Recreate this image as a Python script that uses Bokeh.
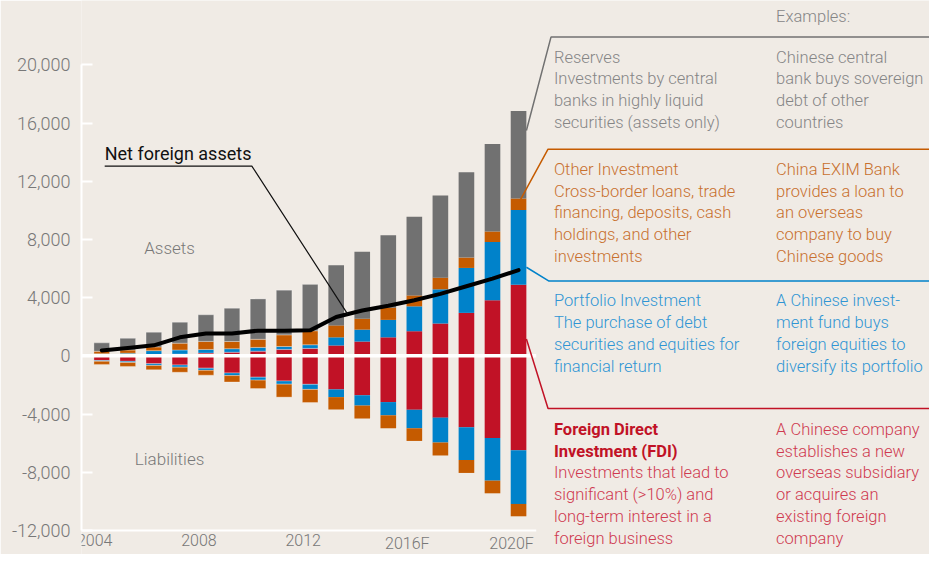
import numpy as np
from bokeh.plotting import figure
from bokeh.models import FixedTicker, NumeralTickFormatter, ColumnDataSource
from bokeh.core.properties import value
from bokeh.embed import file_html
from bokeh.resources import INLINE

# ---------------- data (USD bn) ----------------
years = list(range(2004, 2021))
tick_years = [2004, 2008, 2012, 2016, 2020]
tick_labels = ["2004", "2008", "2012", "2016F", "2020F"]
y_ticks = [-12000, -8000, -4000, 0, 4000, 8000, 12000, 16000, 20000]

assets_fdi = [50, 64, 91, 116, 186, 246, 317, 440, 510, 710, 980, 1270, 1690, 2220, 2950, 3820, 4890]
assets_portfolio = [90, 117, 265, 285, 253, 243, 260, 200, 250, 560, 820, 1200, 1710, 2350, 3090, 4000, 5130]
assets_other = [170, 216, 254, 468, 552, 495, 560, 800, 960, 820, 750, 840, 750, 800, 710, 730, 800]
assets_reserves = [580, 803, 1010, 1441, 1829, 2286, 2773, 3070, 3190, 4130, 4600, 4980, 5400, 5650, 5870, 6000, 6000]

liab_fdi = [320, 380, 540, 630, 850, 1180, 1470, 1730, 1960, 2310, 2710, 3180, 3710, 4250, 4910, 5650, 6490]
liab_portfolio = [60, 80, 120, 150, 150, 180, 200, 220, 350, 530, 710, 910, 1270, 1710, 2250, 2930, 3690]
liab_other = [210, 270, 300, 350, 330, 440, 580, 890, 900, 850, 890, 890, 870, 890, 890, 870, 850]

net_assets = [370, 530, 720, 1270, 1530, 1530, 1730, 1730, 1750, 2670, 3110, 3440, 3820, 4260, 4780, 5310, 5890]

# ---------------- text content ----------------
reserves_lines = ["Reserves", "Investments by central", "banks in highly liquid", "securities (assets only)"]
reserves_examples = ["Chinese central", "bank buys sovereign", "debt of other", "countries"]
other_lines = ["Other Investment", "Cross-border loans, trade", "financing, deposits, cash",
               "holdings, and other", "investments"]
other_examples = ["China EXIM Bank", "provides a loan to", "an overseas", "company to buy", "Chinese goods"]
portfolio_lines = ["Portfolio Investment", "The purchase of debt", "securities and equities for",
                   "financial return"]
portfolio_examples = ["A Chinese invest-", "ment fund buys", "foreign equities to", "diversify its portfolio"]
fdi_title = ["Foreign Direct", "Investment (FDI)"]
fdi_lines = ["Investments that lead to", "significant (>10%) and", "long-term interest in a",
             "foreign business"]
fdi_examples = ["A Chinese company", "establishes a new", "overseas subsidiary", "or acquires an",
                "existing foreign", "company"]

# ---------------- style ----------------
BG = "#f0ebe5"
C_GRAY = "#717171"
C_ORANGE = "#c55b00"
C_BLUE = "#0082ca"
C_RED = "#c11226"
T_GRAY = "#858585"
T_ORANGE = "#c8702e"
T_BLUE = "#2f95d4"
T_RED = "#cf3a50"
T_AXIS = "#787878"
LIGHT = "Roboto Light"
FONT = value(LIGHT)

# mapping helpers from reference-layout pixels to data coordinates
def dx(px):
    return 2004 + (px - 103) / 26.5

def dy(py):
    return (372.3 - py) / 15 * 1000

W, H = 929, 554
KX, KY, OY = 0.983, 0.97, 6
LEFT = 81
p = figure(width=W, height=H, output_backend="svg", toolbar_location=None,
           x_range=(dx(LEFT / KX), dx(W / KX)), y_range=(dy(OY + H / KY), dy(OY)),
           x_axis_location=None, min_border_left=LEFT, min_border_right=0,
           min_border_top=0, min_border_bottom=0)
p.background_fill_color = BG
p.border_fill_color = BG
p.outline_line_color = None
p.grid.visible = False

yax = p.yaxis[0]
yax.ticker = FixedTicker(ticks=y_ticks)
yax.formatter = NumeralTickFormatter(format="0,0")
yax.bounds = (-12000, 20000)
yax.axis_line_color = "white"
yax.axis_line_width = 2
yax.major_tick_line_color = "white"
yax.major_tick_line_width = 2
yax.major_tick_in = 11
yax.major_tick_out = 0
yax.minor_tick_line_color = None
yax.major_label_standoff = 11
yax.major_label_text_font = LIGHT
yax.major_label_text_font_size = "18px"
yax.major_label_text_color = T_AXIS

# ---------------- bars ----------------
yrs = np.array(years, dtype=float)
edge_alpha = [0.3 if y <= 2012 else 0.0 for y in years]
a1 = np.array(assets_fdi, float)
a2 = a1 + np.array(assets_portfolio, float)
a3 = a2 + np.array(assets_other, float)
a4 = a3 + np.array(assets_reserves, float)
l1 = -np.array(liab_fdi, float)
l2 = l1 - np.array(liab_portfolio, float)
l3 = l2 - np.array(liab_other, float)
zero = np.zeros(len(years))

segments = [
    (zero, a1, C_RED), (a1, a2, C_BLUE), (a2, a3, C_ORANGE), (a3, a4, C_GRAY),
    (zero, l1, C_RED), (l1, l2, C_BLUE), (l2, l3, C_ORANGE),
]
for bottom, top, col in segments:
    src = ColumnDataSource(dict(x=yrs, bottom=bottom, top=top, la=edge_alpha))
    p.vbar(x="x", bottom="bottom", top="top", width=0.6, source=src,
           fill_color=col, line_color="white", line_alpha="la", line_width=1)

# axis lines of the chart area
p.segment(x0=[dx(82)], y0=[0], x1=[dx(545)], y1=[0], line_color="white", line_width=3.5)
p.segment(x0=[dx(82)], y0=[-12000], x1=[dx(545)], y1=[-12000], line_color="white", line_width=2)

# net foreign assets line
p.line(x=years, y=net_assets, line_color="black", line_width=4, line_join="round", line_cap="round")

# x tick labels
p.text(x=tick_years, y=[dy(555.5)] * len(tick_years), text=tick_labels, text_font=FONT,
       text_font_size="16px", text_color=T_AXIS, text_align="center", text_baseline="top", x_offset=-7)

# in-chart labels
p.text(x=[dx(172)], y=[dy(261)], text=["Assets"], text_font=FONT, text_font_size="17px",
       text_color=T_AXIS, text_align="center", text_baseline="middle")
p.text(x=[dx(172)], y=[dy(479)], text=["Liabilities"], text_font=FONT, text_font_size="17px",
       text_color=T_AXIS, text_align="center", text_baseline="middle")
p.text(x=[dx(106)], y=[dy(164)], text=["Net foreign assets"], text_font=value("Roboto"),
       text_font_size="18px", text_color="#111111", text_align="left", text_baseline="middle")
p.line(x=[dx(106), dx(255.7), dx(353)], y=[dy(176.7), dy(176.7), dy(329)],
       line_color="#111111", line_width=1.2)

# leader lines to the explanation panel
leaders = [
    ([535, 560, 960], [140, 43.7, 43.7], C_GRAY),
    ([528, 557, 960], [213, 159.3, 159.3], C_ORANGE),
    ([535, 558, 960], [281, 295.3, 295.3], C_BLUE),
    ([535, 557, 960], [355, 426.7, 426.7], C_RED),
]
for xs, ys, col in leaders:
    p.line(x=[dx(v) for v in xs], y=[dy(v) for v in ys], line_color=col, line_width=1.5)

# explanation panel
COL1, COL2, LH = 563, 789, 22.4
TS = "16.5px"

def block(lines, x_px, y0_px, color, bold=False):
    p.text(x=[dx(x_px)] * len(lines), y=[dy(y0_px + i * LH) for i in range(len(lines))], text=lines,
           text_font=value("Roboto") if bold else FONT, text_font_size=TS, text_color=color,
           text_align="left", text_baseline="middle",
           text_font_style="bold" if bold else "normal")

block(["Examples:"], COL2, 23, T_GRAY)
block(reserves_lines, COL1, 64.3, T_GRAY)
block(reserves_examples, COL2, 64.3, T_GRAY)
block(other_lines, COL1, 180, T_ORANGE)
block(other_examples, COL2, 180, T_ORANGE)
block(portfolio_lines, COL1, 315.7, T_BLUE)
block(portfolio_examples, COL2, 315.7, T_BLUE)
block(fdi_title, COL1, 448.3, C_RED, bold=True)
block(fdi_lines, COL1, 448.3 + 2 * LH, T_RED)
block(fdi_examples, COL2, 448.3, T_RED)

open("out.html", "w").write(file_html(p, INLINE))
